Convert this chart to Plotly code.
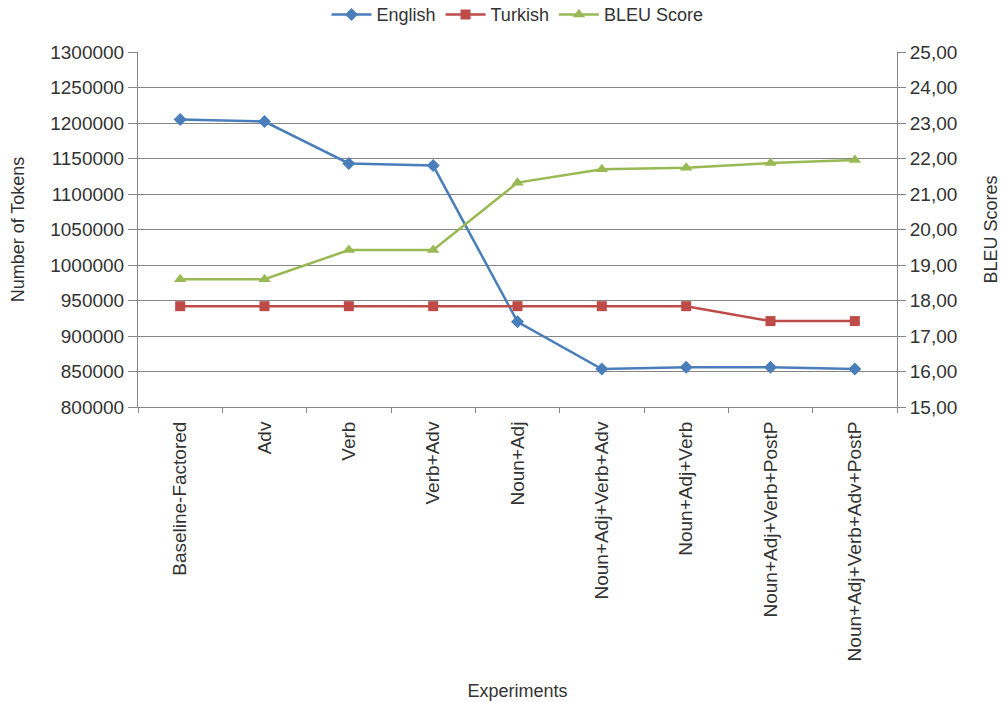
import plotly.graph_objects as go

categories = ["Baseline-Factored", "Adv", "Verb", "Verb+Adv", "Noun+Adj",
              "Noun+Adj+Verb+Adv", "Noun+Adj+Verb", "Noun+Adj+Verb+PostP",
              "Noun+Adj+Verb+Adv+PostP"]
english = [1205000, 1202000, 1143000, 1140000, 920000, 853500, 856000, 856000, 853500]
turkish = [942000, 942000, 942000, 942000, 942000, 942000, 942000, 921000, 921000]
bleu = [18.60, 18.60, 19.42, 19.42, 21.32, 21.70, 21.74, 21.87, 21.96]

left_ticks = list(range(800000, 1300001, 50000))
right_ticks = list(range(15, 26))

FONT = "Liberation Sans"
TXT = "#333333"
FS = 19

fig = go.Figure()
fig.add_trace(go.Scatter(x=categories, y=english, name="English", mode="lines+markers",
                         line=dict(color="#4A7EBB", width=2.5),
                         marker=dict(symbol="diamond", size=10, color="#4A7EBB")))
fig.add_trace(go.Scatter(x=categories, y=turkish, name="Turkish", mode="lines+markers",
                         line=dict(color="#BE4B48", width=2.5),
                         marker=dict(symbol="square", size=10, color="#BE4B48")))
fig.add_trace(go.Scatter(x=categories, y=bleu, name="BLEU Score", mode="lines+markers",
                         yaxis="y2",
                         line=dict(color="#98B954", width=2.5),
                         marker=dict(symbol="triangle-up", size=11, color="#98B954")))

fig.update_layout(
    width=1002, height=702,
    margin=dict(l=138, r=105, t=52, b=295, autoexpand=False),
    paper_bgcolor="white", plot_bgcolor="white",
    separators=", ",
    font=dict(family=FONT, size=FS, color=TXT),
    showlegend=True,
    legend=dict(orientation="h", x=0.5, xanchor="center", y=0.979, yanchor="middle",
                yref="container", itemwidth=40, font=dict(size=18, color=TXT)),
    xaxis=dict(
        type="category", tickangle=-90, showgrid=False,
        showline=True, linecolor="#868686", linewidth=1,
        ticks="outside", ticklen=5, tickcolor="#868686", tickson="boundaries",
        ticklabelstandoff=6,
        tickfont=dict(size=FS, color=TXT),
        title=dict(text="Experiments", font=dict(size=18, color=TXT), standoff=24),
        range=[-0.5, 8.5],
    ),
    yaxis=dict(
        range=[800000, 1300000], tickvals=left_ticks, tickformat="d",
        showgrid=True, gridcolor="#868686", gridwidth=1,
        showline=True, linecolor="#868686", linewidth=1,
        ticks="outside", ticklen=9, tickcolor="#868686",
        tickfont=dict(size=FS, color=TXT),
        title=dict(text="Number of Tokens", font=dict(size=18, color=TXT), standoff=20),
        zeroline=False,
    ),
    yaxis2=dict(
        range=[15, 25], tickvals=right_ticks, tickformat=".2f",
        overlaying="y", side="right", showgrid=False,
        showline=True, linecolor="#868686", linewidth=1,
        ticks="outside", ticklen=8, tickcolor="#868686",
        tickfont=dict(size=FS, color=TXT),
        title=dict(text="BLEU Scores", font=dict(size=18, color=TXT), standoff=28),
        zeroline=False,
    ),
)

fig.write_html("out.html")
